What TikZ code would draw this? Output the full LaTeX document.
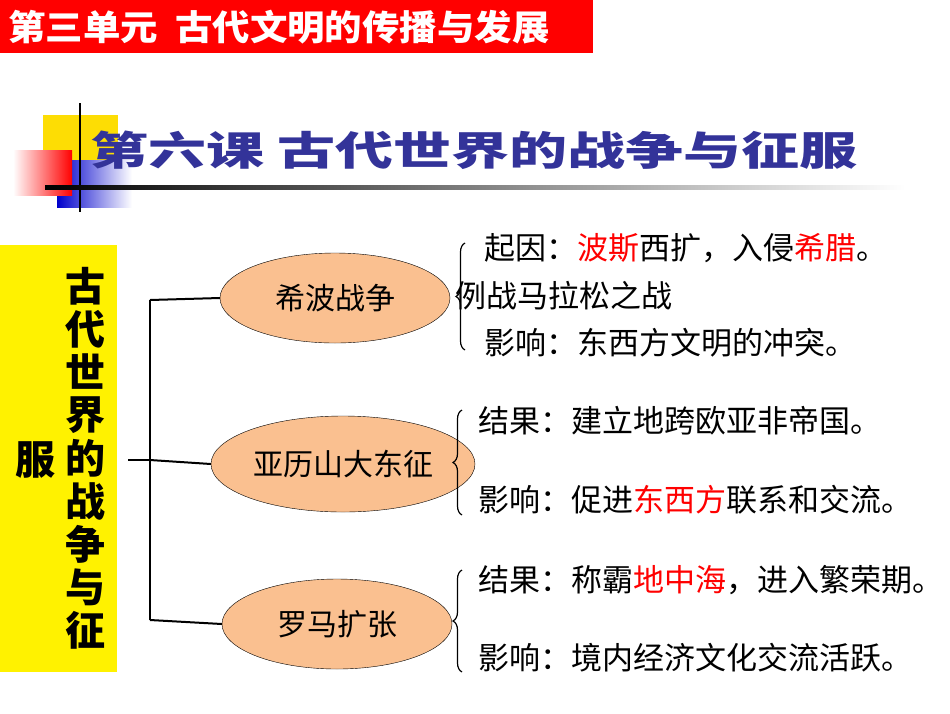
\documentclass[tikz,border=0pt]{standalone}
\usepackage{fontspec}
\setmainfont{Noto Sans CJK SC}
\usetikzlibrary{decorations.pathreplacing,shadings,shapes.geometric}
\definecolor{peach}{HTML}{FAC090}
\definecolor{navy}{HTML}{333399}
\tikzset{
  ell/.style={ellipse,draw=black,fill=peach,minimum width=230pt,minimum height=90pt,font=\fontsize{30pt}{32pt}\selectfont},
  tline/.style={line width=2pt},
  br/.style={decorate,decoration={brace,amplitude=9pt,mirror},line width=1.2pt},
  txt/.style={anchor=west,font=\fontsize{31pt}{33pt}\selectfont,inner sep=0pt},
  vch/.style={font=\fontsize{40pt}{42pt}\selectfont\bfseries,inner sep=0pt}
}
\begin{document}
\begin{tikzpicture}[x=1pt,y=-1pt]
\useasboundingbox (0,0) rectangle (950,713);
\fill[white] (0,0) rectangle (950,713);
% top banner
\fill[red] (0,0) rectangle (593,53);
\node[anchor=west,text=white,font=\fontsize{35pt}{37pt}\selectfont\bfseries,inner sep=0pt] (banner) at (8,27) {\scalebox{1.07}[1]{第三单元\ \ 古代文明的传播与发展}};
% decoration
\fill[yellow!80!orange] (43,115) rectangle (118,185);
\shade[left color=blue!80!black,right color=white] (57,160) rectangle (132,207);
\shade[left color=white,right color=red] (13,150) rectangle (72,195);
\draw[line width=2pt] (80,103) -- (80,212);
\shade[left color=black,right color=white] (45,185.5) rectangle (905,189);
\node[anchor=west,text=navy,font=\fontsize{40pt}{42pt}\selectfont\bfseries,inner sep=0pt] (title) at (90,150) {\scalebox{1.45}[1]{第六课\ 古代世界的战争与征服}};
% left box
\fill[yellow] (0,245) rectangle (117,672);
\foreach \c [count=\i] in {古,代,世,界,的,战,争,与,征}
  {\node[vch] (v\i) at (85,{243+\i*43}) {\c};}
\node[vch] (fu) at (35,460) {服};
% tree
\node[ell] (e1) at (335,298) {希波战争};
\node[ell,minimum width=220pt,minimum height=96pt] (e2) at (343,464) {亚历山大东征};
\node[ell] (e3) at (337,624) {罗马扩张};
\coordinate (s) at (128,460);
\coordinate (t1) at (150,300);
\coordinate (t2) at (150,460);
\coordinate (t3) at (150,620);
\draw[tline] (s) -- (t2);
\draw[tline] (t1) -- (t3);
\draw[tline] (t1) -- (e1.west);
\draw[tline] (t2) -- (e2.west);
\draw[tline] (t3) -- (e3.west);
% braces
\coordinate (b1a) at (465,243); \coordinate (b1b) at (465,350);
\coordinate (b2a) at (462,410); \coordinate (b2b) at (462,515);
\coordinate (b3a) at (462,570); \coordinate (b3b) at (462,672);
\draw[br] (b1a) -- (b1b);
\draw[br] (b2a) -- (b2b);
\draw[br] (b3a) -- (b3b);
% texts
\node[txt] (a1) at (484,248) {起因：\textcolor{red}{波斯}西扩，入侵\textcolor{red}{希腊}。};
\node[txt] (a2) at (455,296) {例战马拉松之战};
\node[txt] (a3) at (484,343) {影响：东西方文明的冲突。};
\node[txt] (c1) at (478,421) {结果：建立地跨欧亚非帝国。};
\node[txt] (c2) at (478,500) {影响：促进\textcolor{red}{东西方}联系和交流。};
\node[txt] (d1) at (478,580) {结果：称霸\textcolor{red}{地中海}，进入繁荣期。};
\node[txt] (d2) at (478,658) {影响：境内经济文化交流活跃。};
\end{tikzpicture}
\end{document}
